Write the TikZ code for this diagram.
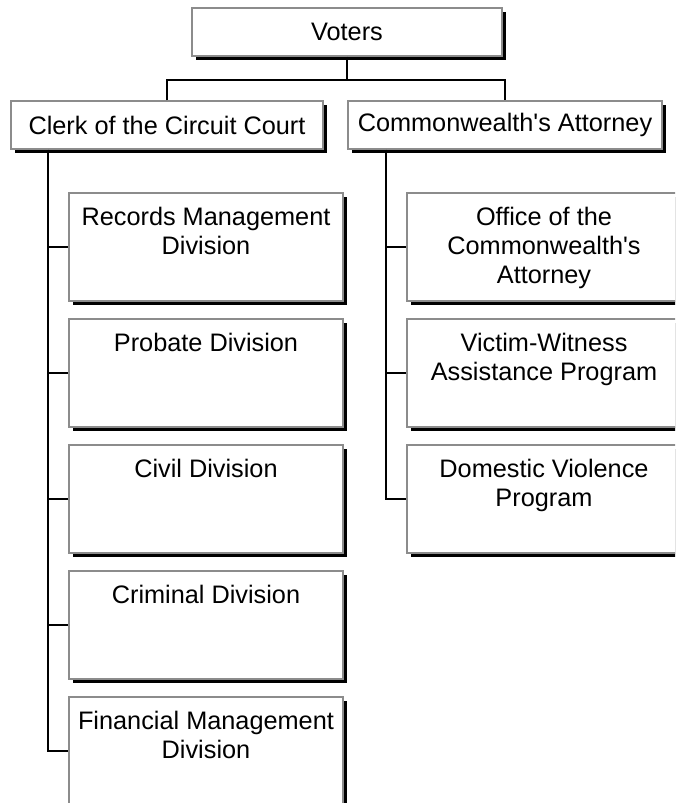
\documentclass[tikz,border=0pt]{standalone}
\usepackage{fontspec}
\setmainfont{Liberation Sans}
\usetikzlibrary{shadows}
\begin{document}
\begin{tikzpicture}[x=1pt,y=-1pt,
  box/.style={draw=black!45, line width=1.3pt, fill=white, rectangle, inner sep=0pt,
    drop shadow={shadow xshift=3.8pt, shadow yshift=-3.8pt, opacity=1, fill=black},
    font=\fontsize{25.3}{29}\selectfont},
  topbox/.style={box, minimum height=48pt},
  childbox/.style={box, minimum width=274pt, minimum height=108pt},
  lbl/.style={anchor=north, align=center, inner sep=0pt, font=\fontsize{25.3}{29}\selectfont},
  conn/.style={draw=black, line width=1.8pt}]
\useasboundingbox (0,0) rectangle (675,803);
\clip (0,0) rectangle (675,803);
\fill[white] (0,0) rectangle (675,803);

% top level
\node[topbox, minimum width=310pt] (voters) at (347,32) {Voters};
\node[topbox, minimum width=312pt] (clerk) at (167,125) {Clerk of the Circuit Court};
\node[topbox, minimum width=314pt] (comm) at (505,125) {Commonwealth\textquotesingle s Attorney};

% left children
\node[childbox] (rec) at (206,247) {};
\node[childbox] (prob) at (206,373) {};
\node[childbox] (civ) at (206,499) {};
\node[childbox] (crim) at (206,625) {};
\node[childbox] (fin) at (206,751) {};

% right children
\node[childbox] (off) at (544,247) {};
\node[childbox] (vic) at (544,373) {};
\node[childbox] (dom) at (544,499) {};

% child labels
\node[lbl] (rect) at ([yshift=-15pt]rec.north) {Records Management\\Division};
\node[lbl] (probt) at ([yshift=-15pt]prob.north) {Probate Division};
\node[lbl] (civt) at ([yshift=-15pt]civ.north) {Civil Division};
\node[lbl] (crimt) at ([yshift=-15pt]crim.north) {Criminal Division};
\node[lbl] (fint) at ([yshift=-15pt]fin.north) {Financial Management\\Division};
\node[lbl] (offt) at ([yshift=-15pt]off.north) {Office of the\\Commonwealth\textquotesingle s\\Attorney};
\node[lbl] (vict) at ([yshift=-15pt]vic.north) {Victim-Witness\\Assistance Program};
\node[lbl] (domt) at ([yshift=-15pt]dom.north) {Domestic Violence\\Program};

% connectors
\coordinate (hub) at (347,80);
\draw[conn] (voters.south) -- (hub);
\draw[conn] (clerk.north) |- (hub) -| (comm.north);

\coordinate (lt) at ([xshift=38pt]clerk.south west);
\coordinate (rt) at ([xshift=39pt]comm.south west);
\draw[conn] (lt) |- (fin.west);
\foreach \n in {rec,prob,civ,crim}
  \draw[conn] (lt |- \n.west) -- (\n.west);
\draw[conn] (rt) |- (dom.west);
\foreach \n in {off,vic}
  \draw[conn] (rt |- \n.west) -- (\n.west);
\end{tikzpicture}
\end{document}
